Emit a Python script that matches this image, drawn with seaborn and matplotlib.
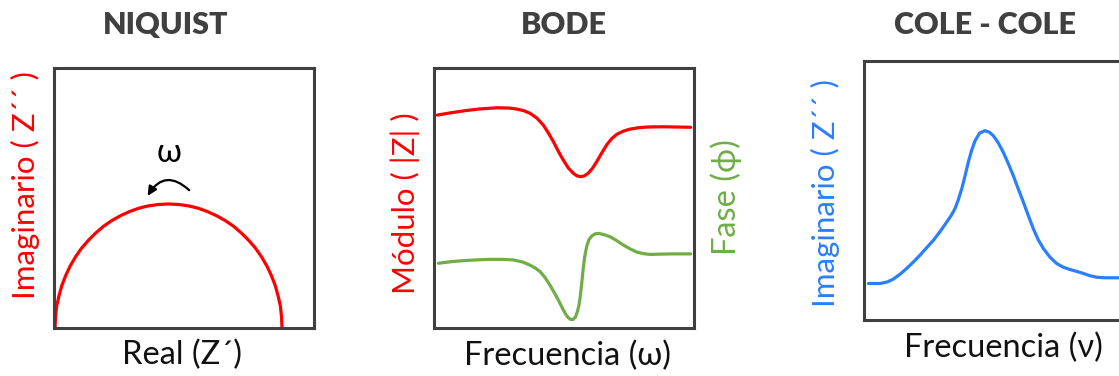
import matplotlib
matplotlib.use("Agg")
import matplotlib.pyplot as plt
import seaborn as sns

sns.set_theme(style="white")
plt.rcParams["font.family"] = ["Lato", "DejaVu Sans"]

# ---- Nyquist: imaginary vs real part ----
nyq_real = [0.04, 0.06, 0.10, 0.19, 0.30, 0.45, 0.62, 0.83, 1.06, 1.32, 1.60, 1.90,
            2.22, 2.56, 2.91, 3.27, 3.65, 4.02, 4.40, 4.79, 5.16, 5.54, 5.90, 6.25,
            6.59, 6.91, 7.21, 7.49, 7.75, 7.98, 8.19, 8.36, 8.51, 8.62, 8.71, 8.75, 8.77]
nyq_imag = [0.00, 0.42, 0.83, 1.23, 1.63, 2.02, 2.38, 2.74, 3.07, 3.37, 3.65, 3.91,
            4.13, 4.32, 4.48, 4.61, 4.70, 4.75, 4.77, 4.75, 4.70, 4.61, 4.48, 4.32,
            4.13, 3.91, 3.65, 3.37, 3.07, 2.74, 2.38, 2.02, 1.63, 1.23, 0.83, 0.42, 0.00]

# ---- Bode: modulus and phase vs frequency ----
bode_freq_mod = [0.13, 0.60, 1.13, 1.70, 2.41, 2.90, 3.18, 3.45, 3.69, 3.95, 4.20,
                 4.40, 4.59, 4.78, 4.97, 5.17, 5.36, 5.50, 5.64, 5.78, 5.93, 6.10,
                 6.26, 6.45, 6.64, 6.83, 7.03, 7.28, 7.54, 7.85, 8.18, 8.82, 9.87]
bode_mod = [8.19, 8.27, 8.35, 8.42, 8.47, 8.46, 8.42, 8.36, 8.26, 8.08, 7.81,
            7.50, 7.17, 6.80, 6.46, 6.15, 5.95, 5.85, 5.82, 5.85, 5.95, 6.15,
            6.40, 6.73, 7.04, 7.28, 7.45, 7.57, 7.65, 7.70, 7.73, 7.74, 7.72]

bode_freq_phase = [0.17, 0.65, 1.13, 1.65, 2.15, 2.60, 3.05, 3.40, 3.69, 3.90, 4.08,
                   4.28, 4.46, 4.62, 4.78, 4.92, 5.04, 5.15, 5.25, 5.35, 5.44, 5.52,
                   5.58, 5.63, 5.68, 5.73, 5.79, 5.87, 5.96, 6.07, 6.20, 6.32, 6.55,
                   6.77, 7.03, 7.28, 7.55, 7.80, 8.05, 8.31, 8.70, 9.08, 9.87]
bode_phase = [2.49, 2.55, 2.59, 2.62, 2.64, 2.64, 2.62, 2.54, 2.42, 2.30, 2.17,
              1.93, 1.65, 1.37, 1.08, 0.80, 0.57, 0.41, 0.33, 0.33, 0.42, 0.65,
              0.90, 1.25, 1.70, 2.20, 2.70, 3.13, 3.40, 3.54, 3.62, 3.64, 3.59,
              3.51, 3.36, 3.19, 3.04, 2.92, 2.86, 2.83, 2.84, 2.85, 2.85]

# ---- Cole-Cole: imaginary part vs frequency ----
cole_freq = [0.17, 0.62, 0.90, 1.13, 1.40, 1.64, 1.90, 2.15, 2.40, 2.67, 2.93, 3.18,
             3.35, 3.50, 3.63, 3.76, 3.89, 4.01, 4.14, 4.27, 4.45, 4.65, 4.82, 4.97,
             5.17, 5.36, 5.55, 5.74, 5.93, 6.13, 6.32, 6.51, 6.70, 6.90, 7.15, 7.41,
             7.66, 7.92, 8.17, 8.43, 8.69, 8.95, 9.30, 9.81]
cole_imag = [1.41, 1.41, 1.47, 1.58, 1.78, 1.99, 2.24, 2.50, 2.78, 3.08, 3.42, 3.78,
             4.03, 4.30, 4.65, 5.07, 5.58, 6.09, 6.55, 6.92, 7.22, 7.31, 7.25, 7.12,
             6.83, 6.47, 6.04, 5.58, 5.07, 4.55, 4.03, 3.53, 3.10, 2.76, 2.43, 2.18,
             2.04, 1.95, 1.88, 1.80, 1.71, 1.65, 1.63, 1.63]

titles = ["NIQUIST", "BODE", "COLE - COLE"]

RED = "#FF0000"
GREEN = "#70AD47"
BLUE = "#2A7FFF"
FRAME = "#404040"
LW = 2.3
FS = 23.5
YFS = 22.5
TFS = 22

W, H = 1119, 376
fig = plt.figure(figsize=(W / 100, H / 100), dpi=100)


def frame_axes(px_left, px_top, px_w, px_h):
    ax = fig.add_axes([px_left / W, 1 - (px_top + px_h) / H, px_w / W, px_h / H])
    ax.set_xlim(0, 10)
    ax.set_ylim(0, 10)
    ax.set_xticks([])
    ax.set_yticks([])
    ax.set_xlabel("")
    ax.set_ylabel("")
    for sp in ax.spines.values():
        sp.set_color(FRAME)
        sp.set_linewidth(2.2)
        sp.set_visible(True)
    return ax


ax1 = frame_axes(54, 68, 260, 260)
ax2 = frame_axes(434, 68, 260, 260)
ax3 = frame_axes(864, 61, 260, 259)

# Nyquist
sns.lineplot(x=nyq_real, y=nyq_imag, ax=ax1, color=RED, lw=LW, sort=False,
             estimator=None)
ax1.annotate("", xy=(3.6, 5.08), xytext=(5.2, 5.3), xycoords="data",
             arrowprops=dict(arrowstyle="-|>,head_length=0.45,head_width=0.22",
                             connectionstyle="arc3,rad=0.6", color="black", lw=1.6,
                             shrinkA=0, shrinkB=0))
ax1.text(4.43, 6.75, "ω", ha="center", va="center", fontsize=FS, color="black")
ax1.text(-0.1115, 0.548, "Imaginario ( Z´´ )", rotation=90, ha="center",
         va="center", fontsize=YFS, color=RED, transform=ax1.transAxes)
ax1.text(0.492, -0.104, "Real (Z´)", ha="center", va="center", fontsize=FS,
         color="#111111", transform=ax1.transAxes)

# Bode
sns.lineplot(x=bode_freq_mod, y=bode_mod, ax=ax2, color=RED, lw=LW, sort=False,
             estimator=None)
ax2b = ax2.twinx()
ax2b.set_ylim(0, 10)
ax2b.set_yticks([])
for sp in ax2b.spines.values():
    sp.set_visible(False)
sns.lineplot(x=bode_freq_phase, y=bode_phase, ax=ax2b, color=GREEN, lw=LW,
             sort=False, estimator=None)
ax2b.set_ylabel("")
ax2.text(-0.1115, 0.479, "Módulo ( |Z| )", rotation=90, ha="center", va="center",
         fontsize=YFS, color=RED, transform=ax2.transAxes)
ax2.text(1.123, 0.502, "Fase (ϕ)", rotation=90, ha="center", va="center",
         fontsize=FS, color=GREEN, transform=ax2.transAxes)
ax2.text(0.512, -0.106, "Frecuencia (ω)", ha="center", va="center", fontsize=FS,
         color="#111111", transform=ax2.transAxes)

# Cole-Cole
sns.lineplot(x=cole_freq, y=cole_imag, ax=ax3, color=BLUE, lw=LW, sort=False,
             estimator=None)
ax3.text(-0.147, 0.492, "Imaginario ( Z´´ )", rotation=90, ha="center",
         va="center", fontsize=YFS, color=BLUE, transform=ax3.transAxes)
ax3.text(0.538, -0.106, "Frecuencia (ν)", ha="center", va="center", fontsize=FS,
         color="#111111", transform=ax3.transAxes)

# Panel titles
for title, cx in zip(titles, [166, 564, 985]):
    fig.text(cx / W, 1 - 25 / H, title, ha="center", va="center", fontsize=TFS,
             fontweight="heavy", color=FRAME)

fig.savefig("out.png", dpi=100, facecolor="white")
